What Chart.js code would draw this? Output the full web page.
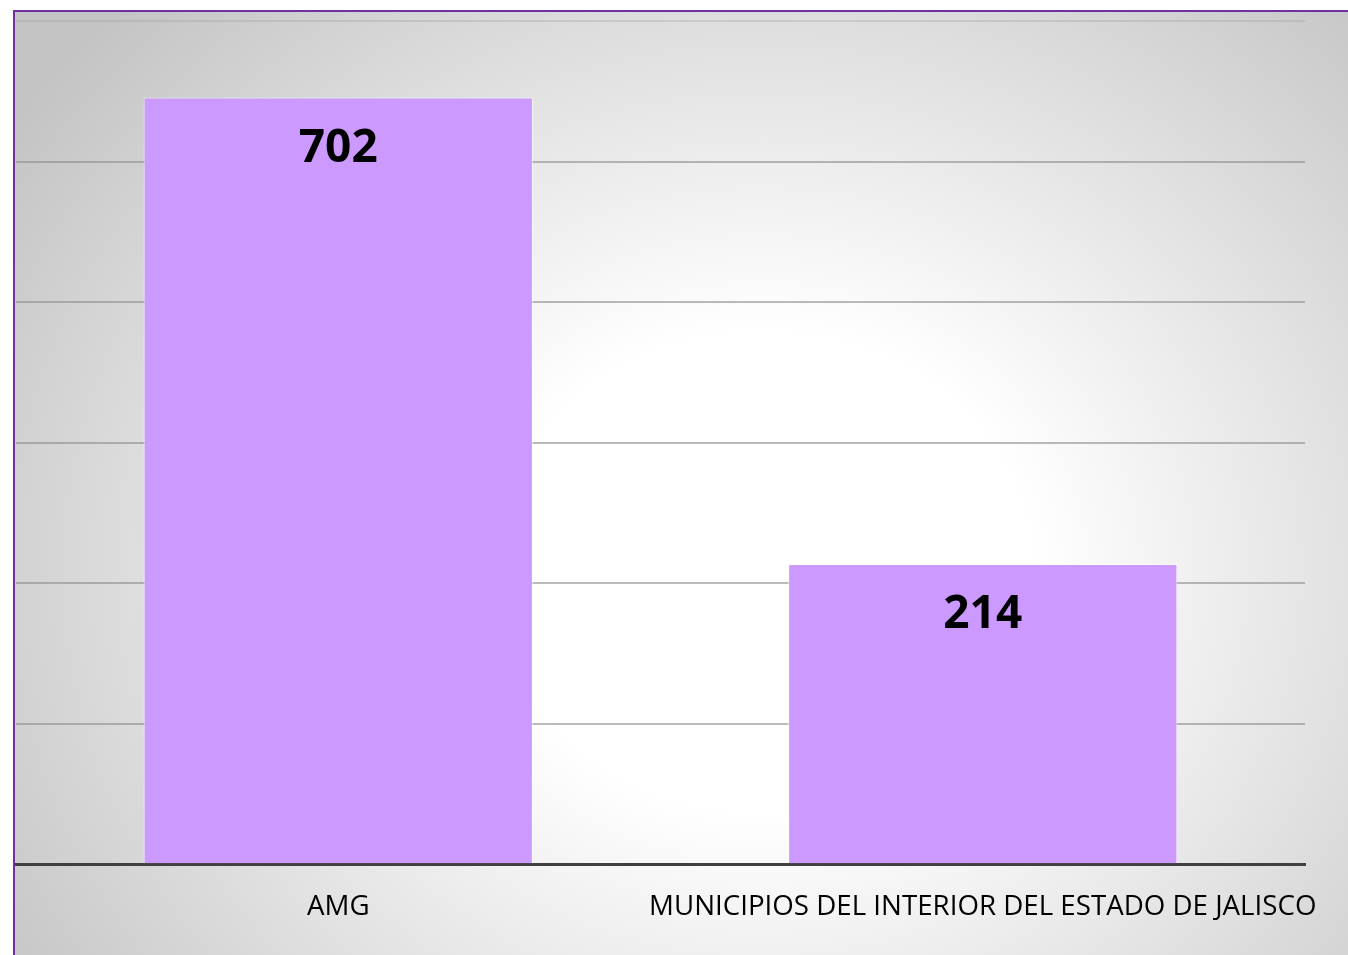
<!DOCTYPE html>
<html>
<head>
<meta charset="utf-8">
<title>AMG vs Municipios</title>
<script src="https://cdn.jsdelivr.net/npm/chart.js@4.4.1/dist/chart.umd.min.js"></script>
<style>
  html, body { margin: 0; padding: 0; background: #fff; overflow: hidden; }
  #marco {
    position: absolute; left: 13px; top: 10px; width: 1360px; height: 960px;
    border-top: 2px solid #7030a0; border-left: 2px solid #7030a0;
    background: radial-gradient(ellipse 900px 800px at 747px 560px, #ffffff 0%, #ffffff 30%, #e4e4e4 62%, #c4c4c4 100%);
  }
  #contenedor { position: absolute; left: 0; top: 0; width: 1348px; height: 955px; }
</style>
</head>
<body>
<div id="marco"></div>
<div id="contenedor"><canvas id="graficaMunicipios"></canvas></div>
<script>
const categorias = ["AMG", "MUNICIPIOS DEL INTERIOR DEL ESTADO DE JALISCO"];
const valores = [702, 214];
// lineas de la cuadricula (sin etiquetas visibles)
const ticksY = [-100, 47, 194, 341, 488, 635, 782];

// etiquetas de valor dentro de las barras
const etiquetasValor = {
    id: 'etiquetasValor',
    afterDatasetsDraw(chart) {
        const ctx = chart.ctx;
        const meta = chart.getDatasetMeta(0);
        ctx.save();
        ctx.font = 'bold 46px "Open Sans"';
        ctx.fillStyle = '#000';
        ctx.textAlign = 'center';
        ctx.textBaseline = 'middle';
        meta.data.forEach((barra, i) => {
            ctx.fillText(valores[i], barra.x, barra.y + 51);
        });
        ctx.restore();
    }
};

const ctx = document.getElementById('graficaMunicipios').getContext('2d');
new Chart(ctx, {
    type: 'bar',
    data: {
        labels: categorias,
        datasets: [{
            data: valores,
            base: ticksY[0],
            backgroundColor: '#cc99ff',
            borderColor: 'rgba(255,255,255,0.7)',
            borderWidth: 1,
            categoryPercentage: 1,
            barPercentage: 0.604
        }]
    },
    options: {
        responsive: true,
        maintainAspectRatio: false,
        animation: false,
        layout: { padding: { left: 16, right: 43, top: 21, bottom: 5.5 } },
        plugins: {
            legend: { display: false },
            tooltip: { enabled: false }
        },
        scales: {
            x: {
                grid: { display: false, drawTicks: false },
                border: { display: true, color: '#404040', width: 3 },
                // la etiqueta larga se sale del area, como en el original
                afterFit: (eje) => { eje.paddingLeft = 0; eje.paddingRight = 0; },
                ticks: {
                    color: '#000',
                    padding: 26,
                    maxRotation: 0,
                    minRotation: 0,
                    autoSkip: false,
                    font: { family: '"Open Sans", sans-serif', size: 27.7 }
                }
            },
            y: {
                min: ticksY[0],
                max: ticksY[ticksY.length - 1],
                afterBuildTicks: (eje) => { eje.ticks = ticksY.map(v => ({ value: v })); },
                ticks: { display: false },
                border: { display: false },
                grid: {
                    drawTicks: false,
                    lineWidth: 2,
                    color: (c) => c.index === ticksY.length - 1 ? 'rgba(160,160,160,0.35)' : 'rgba(140,140,140,0.6)'
                }
            }
        }
    },
    plugins: [etiquetasValor]
});
</script>
</body>
</html>
